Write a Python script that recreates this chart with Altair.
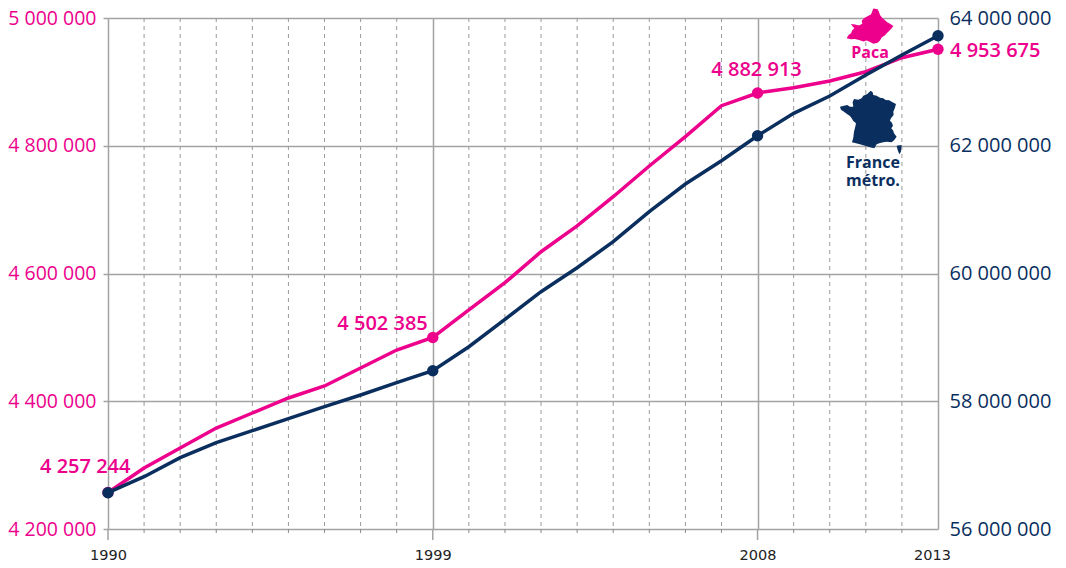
import altair as alt
import pandas as pd

years = list(range(1990, 2014))
paca = [4257244, 4295500, 4326800, 4358100, 4381600, 4405100, 4423900, 4452100,
        4480200, 4499800, 4542900, 4585600, 4634100, 4674400, 4720200, 4768300,
        4814200, 4862700, 4882600, 4890900, 4901400, 4915900, 4937800, 4951000]
france = [56568300, 56818800, 57116200, 57351100, 57539000, 57726800, 57914700, 58097800,
          58290400, 58478300, 58854000, 59283000, 59715100, 60090800, 60497900, 60967500,
          61401200, 61766000, 62157300, 62508000, 62778900, 63107600, 63420700, 63722900]
major_years = [1990, 1999, 2008, 2013]
long_tick_years = [1990, 1999, 2008]
minor_years = [y for y in years if y not in major_years]
left_ticks = [4200000, 4400000, 4600000, 4800000, 5000000]
right_ticks = [56000000, 58000000, 60000000, 62000000, 64000000]
label_texts = ["4 257 244", "4 502 385", "4 882 913", "4 953 675"]

PINK = "#EC008C"
NAVY = "#0A2F5F"
GRID = "#a3a3a3"
SANS = "Open Sans"
SPACED = "replace(format(datum.value, ','), /,/g, ' ')"

FRANCE_OUTLINE = [
    (122, 17), (128, 22), (130, 30), (140, 32), (150, 38), (160, 40), (167, 45), (178, 46), (185, 50),
    (198, 57), (195, 68), (190, 80), (191, 90), (183, 100), (180, 107), (186, 113), (189, 122), (184, 130),
    (190, 137), (192, 145), (200, 155), (193, 165), (185, 172), (170, 170), (160, 172), (148, 175),
    (140, 178), (133, 190), (120, 187), (105, 182), (90, 178), (78, 175), (66, 172), (70, 158), (72, 140),
    (76, 125), (78, 115), (70, 108), (65, 100), (60, 93), (50, 86), (42, 80), (33, 74), (30, 65), (42, 62),
    (52, 60), (60, 65), (70, 65), (68, 52), (72, 42), (85, 44), (95, 40), (100, 32), (112, 27),
]
CORSICA_OUTLINE = [(200, 182), (215, 180), (213, 200), (208, 208), (203, 195)]
PACA_OUTLINE = [
    (115, 10), (128, 12), (132, 22), (135, 32), (142, 42), (150, 50), (158, 58), (165, 62), (175, 70),
    (170, 78), (163, 86), (155, 95), (150, 102), (140, 110), (135, 120), (128, 128), (115, 131), (105, 125),
    (95, 120), (85, 123), (72, 118), (60, 115), (48, 116), (35, 112), (40, 102), (48, 95), (52, 85), (58, 78),
    (52, 70), (48, 63), (60, 65), (72, 68), (82, 62), (80, 52), (88, 42), (100, 35), (108, 30), (112, 18),
]


def to_path(outline, cx, cy, half, squash=1.0):
    pts = [f"{(x - cx) / half:.3f} {(y - cy) / half * squash:.3f}" for x, y in outline]
    return "M" + " L".join(pts) + " Z"


FRANCE_PATH = to_path(FRANCE_OUTLINE, 115, 102, 87.5) + " " + to_path(CORSICA_OUTLINE, 115, 102, 87.5)
PACA_PATH = to_path(PACA_OUTLINE, 105, 70, 70, 0.87)

W, H = 830, 511
x_scale = alt.Scale(domain=[1990, 2013], nice=False, zero=False)
left_scale = alt.Scale(domain=[4200000, 5000000], nice=False, zero=False)
right_scale = alt.Scale(domain=[56000000, 64000000], nice=False, zero=False)

df = pd.DataFrame({"year": years, "paca": paca, "france": france})
key_df = df[df.year.isin(major_years)]
labels_df = key_df.assign(label=label_texts)
minor_df = pd.DataFrame({"year": minor_years})
long_df = pd.DataFrame({"year": long_tick_years})

x_enc = alt.X("year:Q", scale=x_scale, axis=alt.Axis(
    values=major_years, format="d", title=None, domain=False, grid=True,
    gridColor=GRID, gridWidth=1.5, ticks=False, tickSize=0,
    labelPadding=19, labelFont="DejaVu Sans", labelFontSize=14.5, labelColor="#222222",
    labelOffset={"condition": {"test": "datum.value == 2013", "value": -6}, "value": 0},
    labelFlush=False, labelOverlap=False))

minor_grid = alt.Chart(minor_df).mark_rule(color="#9a9a9a", strokeWidth=1, strokeDash=[4, 4]).encode(
    x=x_enc, y=alt.value(0), y2=alt.value(H))
minor_ticks = alt.Chart(minor_df).mark_rule(color="#8a8a8a", strokeWidth=1).encode(
    x=x_enc, y=alt.value(H), y2=alt.value(H + 4))
long_ticks = alt.Chart(long_df).mark_rule(color=GRID, strokeWidth=1.5).encode(
    x=x_enc, y=alt.value(H), y2=alt.value(H + 11))

pink_line = alt.Chart(df).mark_line(color=PINK, strokeWidth=3.5).encode(
    x=x_enc,
    y=alt.Y("paca:Q", scale=left_scale, axis=alt.Axis(
        values=left_ticks, title=None, domain=False, grid=True, gridColor=GRID, gridWidth=1.5,
        tickColor=GRID, tickWidth=1.5, tickSize=5, labelPadding=7, labelExpr=SPACED,
        labelFont=SANS, labelFontSize=19.5, labelColor=PINK, labelOverlap=False, labelFlush=False)))
pink_points = alt.Chart(key_df).mark_point(color=PINK, filled=True, opacity=1, size=130).encode(
    x=x_enc,
    y=alt.Y("paca:Q", scale=left_scale, axis=None))

navy_line = alt.Chart(df).mark_line(color=NAVY, strokeWidth=3.5).encode(
    x=x_enc,
    y=alt.Y("france:Q", scale=right_scale, axis=alt.Axis(
        orient="right", values=right_ticks, title=None, domain=False, grid=False, ticks=False,
        tickSize=0, labelPadding=11, labelExpr=SPACED, labelFont=SANS, labelFontSize=20,
        labelColor=NAVY, labelOverlap=False, labelFlush=False)))
navy_points = alt.Chart(key_df).mark_point(color=NAVY, filled=True, opacity=1, size=130).encode(
    x=x_enc,
    y=alt.Y("france:Q", scale=right_scale, axis=None))


def tag(row_index, align, dx, dy):
    return alt.Chart(labels_df.iloc[[row_index]]).mark_text(
        color=PINK, font=SANS, fontSize=20, fontWeight=600, align=align,
        baseline="middle", dx=dx, dy=dy).encode(
        x=x_enc,
        y=alt.Y("paca:Q", scale=left_scale, axis=None),
        text="label:N")


def note(text, px, py, color):
    return alt.Chart(pd.DataFrame({"t": [text]})).mark_text(
        color=color, font=SANS, fontSize=16, fontWeight=700, align="center", baseline="middle",
        lineBreak="\n", lineHeight=18).encode(
        x=alt.value(px), y=alt.value(py), text="t:N")


def icon(path, px, py, size, color):
    return alt.Chart(pd.DataFrame({"i": [0]})).mark_point(
        shape=path, size=size, color=color, filled=True, opacity=1, strokeWidth=0).encode(
        x=alt.value(px), y=alt.value(py))


chart = alt.layer(
    minor_grid, minor_ticks, long_ticks, pink_line, pink_points, navy_line, navy_points,
    tag(0, "right", 22.5, -25), tag(1, "right", -5, -14), tag(2, "center", -1, -23), tag(3, "left", 12, 2),
    icon(PACA_PATH, 762, 8, 2178, PINK),
    icon(FRANCE_PATH, 760.3, 101, 3403, NAVY),
    note("Paca", 762, 35, PINK),
    note("France\nmétro.", 765, 145, NAVY),
).resolve_scale(y="independent").properties(
    width=W, height=H,
    autosize=alt.AutoSizeParams(type="none"),
    padding={"left": 100, "top": 10, "right": 120, "bottom": 39},
).configure_view(stroke=None)

chart.save("out.html", embed_options={"renderer": "svg", "actions": False})
